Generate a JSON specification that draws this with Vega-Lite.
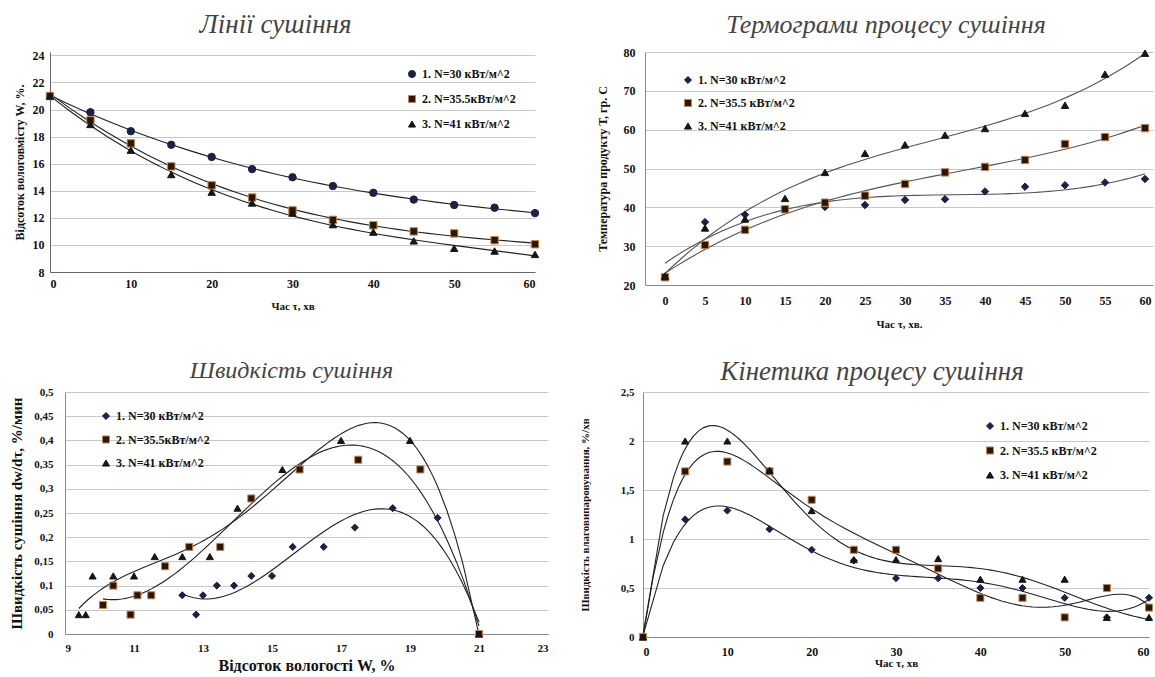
{
"$schema": "https://vega.github.io/schema/vega-lite/v6.json",
"background": "white",
"padding": {"left": 0, "top": 11, "right": 0, "bottom": 0},
"config": {
  "font": "Liberation Serif",
  "view": {"stroke": null},
  "axis": {"labelFont": "Liberation Serif", "labelFontWeight": "bold", "labelColor": "#111", "titleFont": "Liberation Serif", "titleFontWeight": "bold", "titleColor": "#111", "gridColor": "#c8c8c8", "domainColor": "#8a8a8a", "ticks": false, "labelFontSize": 12, "titleFontSize": 12},
  "legend": {"labelFont": "Liberation Serif", "labelFontWeight": "bold", "labelFontSize": 12, "labelColor": "#111", "symbolSize": 50, "symbolStrokeWidth": 1, "orient": "none", "title": null},
  "title": {"font": "Liberation Serif", "fontStyle": "italic", "fontWeight": "normal", "fontSize": 26, "color": "#444", "frame": "group"}
},
"datasets": {
  "p1": [
    {"s":"1. N=30 кВт/м^2","t":0,"w":21},{"s":"1. N=30 кВт/м^2","t":5,"w":19.8},{"s":"1. N=30 кВт/м^2","t":10,"w":18.4},{"s":"1. N=30 кВт/м^2","t":15,"w":17.4},{"s":"1. N=30 кВт/м^2","t":20,"w":16.5},{"s":"1. N=30 кВт/м^2","t":25,"w":15.6},{"s":"1. N=30 кВт/м^2","t":30,"w":15.0},{"s":"1. N=30 кВт/м^2","t":35,"w":14.35},{"s":"1. N=30 кВт/м^2","t":40,"w":13.85},{"s":"1. N=30 кВт/м^2","t":45,"w":13.35},{"s":"1. N=30 кВт/м^2","t":50,"w":12.95},{"s":"1. N=30 кВт/м^2","t":55,"w":12.75},{"s":"1. N=30 кВт/м^2","t":60,"w":12.35},
    {"s":"2. N=35.5кВт/м^2","t":0,"w":21},{"s":"2. N=35.5кВт/м^2","t":5,"w":19.2},{"s":"2. N=35.5кВт/м^2","t":10,"w":17.5},{"s":"2. N=35.5кВт/м^2","t":15,"w":15.8},{"s":"2. N=35.5кВт/м^2","t":20,"w":14.4},{"s":"2. N=35.5кВт/м^2","t":25,"w":13.5},{"s":"2. N=35.5кВт/м^2","t":30,"w":12.55},{"s":"2. N=35.5кВт/м^2","t":35,"w":11.85},{"s":"2. N=35.5кВт/м^2","t":40,"w":11.45},{"s":"2. N=35.5кВт/м^2","t":45,"w":11.0},{"s":"2. N=35.5кВт/м^2","t":50,"w":10.85},{"s":"2. N=35.5кВт/м^2","t":55,"w":10.35},{"s":"2. N=35.5кВт/м^2","t":60,"w":10.05},
    {"s":"3. N=41 кВт/м^2","t":0,"w":21},{"s":"3. N=41 кВт/м^2","t":5,"w":18.9},{"s":"3. N=41 кВт/м^2","t":10,"w":17.0},{"s":"3. N=41 кВт/м^2","t":15,"w":15.2},{"s":"3. N=41 кВт/м^2","t":20,"w":13.9},{"s":"3. N=41 кВт/м^2","t":25,"w":13.1},{"s":"3. N=41 кВт/м^2","t":30,"w":12.35},{"s":"3. N=41 кВт/м^2","t":35,"w":11.5},{"s":"3. N=41 кВт/м^2","t":40,"w":10.95},{"s":"3. N=41 кВт/м^2","t":45,"w":10.3},{"s":"3. N=41 кВт/м^2","t":50,"w":9.75},{"s":"3. N=41 кВт/м^2","t":55,"w":9.55},{"s":"3. N=41 кВт/м^2","t":60,"w":9.3}
  ],
  "p2": [
    {"s":"1. N=30 кВт/м^2","t":0,"w":22},{"s":"1. N=30 кВт/м^2","t":5,"w":36.2},{"s":"1. N=30 кВт/м^2","t":10,"w":38.1},{"s":"1. N=30 кВт/м^2","t":15,"w":39.6},{"s":"1. N=30 кВт/м^2","t":20,"w":40.1},{"s":"1. N=30 кВт/м^2","t":25,"w":40.6},{"s":"1. N=30 кВт/м^2","t":30,"w":41.9},{"s":"1. N=30 кВт/м^2","t":35,"w":42.1},{"s":"1. N=30 кВт/м^2","t":40,"w":44.1},{"s":"1. N=30 кВт/м^2","t":45,"w":45.3},{"s":"1. N=30 кВт/м^2","t":50,"w":45.7},{"s":"1. N=30 кВт/м^2","t":55,"w":46.4},{"s":"1. N=30 кВт/м^2","t":60,"w":47.3},
    {"s":"2. N=35.5 кВт/м^2","t":0,"w":22},{"s":"2. N=35.5 кВт/м^2","t":5,"w":30.3},{"s":"2. N=35.5 кВт/м^2","t":10,"w":34.2},{"s":"2. N=35.5 кВт/м^2","t":15,"w":39.5},{"s":"2. N=35.5 кВт/м^2","t":20,"w":41.2},{"s":"2. N=35.5 кВт/м^2","t":25,"w":43.0},{"s":"2. N=35.5 кВт/м^2","t":30,"w":46.0},{"s":"2. N=35.5 кВт/м^2","t":35,"w":49.0},{"s":"2. N=35.5 кВт/м^2","t":40,"w":50.4},{"s":"2. N=35.5 кВт/м^2","t":45,"w":52.2},{"s":"2. N=35.5 кВт/м^2","t":50,"w":56.3},{"s":"2. N=35.5 кВт/м^2","t":55,"w":58.1},{"s":"2. N=35.5 кВт/м^2","t":60,"w":60.4},
    {"s":"3. N=41 кВт/м^2","t":0,"w":22.3},{"s":"3. N=41 кВт/м^2","t":5,"w":34.7},{"s":"3. N=41 кВт/м^2","t":10,"w":37.0},{"s":"3. N=41 кВт/м^2","t":15,"w":42.3},{"s":"3. N=41 кВт/м^2","t":20,"w":49.0},{"s":"3. N=41 кВт/м^2","t":25,"w":53.9},{"s":"3. N=41 кВт/м^2","t":30,"w":56.1},{"s":"3. N=41 кВт/м^2","t":35,"w":58.6},{"s":"3. N=41 кВт/м^2","t":40,"w":60.3},{"s":"3. N=41 кВт/м^2","t":45,"w":64.2},{"s":"3. N=41 кВт/м^2","t":50,"w":66.3},{"s":"3. N=41 кВт/м^2","t":55,"w":74.3},{"s":"3. N=41 кВт/м^2","t":60,"w":79.7}
  ],
  "p3": [
    {"s":"1. N=30 кВт/м^2","t":12.4,"w":0.08},{"s":"1. N=30 кВт/м^2","t":12.8,"w":0.04},{"s":"1. N=30 кВт/м^2","t":13.0,"w":0.08},{"s":"1. N=30 кВт/м^2","t":13.4,"w":0.10},{"s":"1. N=30 кВт/м^2","t":13.9,"w":0.10},{"s":"1. N=30 кВт/м^2","t":14.4,"w":0.12},{"s":"1. N=30 кВт/м^2","t":15.0,"w":0.12},{"s":"1. N=30 кВт/м^2","t":15.6,"w":0.18},{"s":"1. N=30 кВт/м^2","t":16.5,"w":0.18},{"s":"1. N=30 кВт/м^2","t":17.4,"w":0.22},{"s":"1. N=30 кВт/м^2","t":18.5,"w":0.26},{"s":"1. N=30 кВт/м^2","t":19.8,"w":0.24},{"s":"1. N=30 кВт/м^2","t":21.0,"w":0},
    {"s":"2. N=35.5кВт/м^2","t":10.1,"w":0.06},{"s":"2. N=35.5кВт/м^2","t":10.4,"w":0.10},{"s":"2. N=35.5кВт/м^2","t":10.9,"w":0.04},{"s":"2. N=35.5кВт/м^2","t":11.1,"w":0.08},{"s":"2. N=35.5кВт/м^2","t":11.5,"w":0.08},{"s":"2. N=35.5кВт/м^2","t":11.9,"w":0.14},{"s":"2. N=35.5кВт/м^2","t":12.6,"w":0.18},{"s":"2. N=35.5кВт/м^2","t":13.5,"w":0.18},{"s":"2. N=35.5кВт/м^2","t":14.4,"w":0.28},{"s":"2. N=35.5кВт/м^2","t":15.8,"w":0.34},{"s":"2. N=35.5кВт/м^2","t":17.5,"w":0.36},{"s":"2. N=35.5кВт/м^2","t":19.3,"w":0.34},{"s":"2. N=35.5кВт/м^2","t":21.0,"w":0},
    {"s":"3. N=41 кВт/м^2","t":9.4,"w":0.04},{"s":"3. N=41 кВт/м^2","t":9.6,"w":0.04},{"s":"3. N=41 кВт/м^2","t":9.8,"w":0.12},{"s":"3. N=41 кВт/м^2","t":10.4,"w":0.12},{"s":"3. N=41 кВт/м^2","t":11.0,"w":0.12},{"s":"3. N=41 кВт/м^2","t":11.6,"w":0.16},{"s":"3. N=41 кВт/м^2","t":12.4,"w":0.16},{"s":"3. N=41 кВт/м^2","t":13.2,"w":0.16},{"s":"3. N=41 кВт/м^2","t":14.0,"w":0.26},{"s":"3. N=41 кВт/м^2","t":15.3,"w":0.34},{"s":"3. N=41 кВт/м^2","t":17.0,"w":0.40},{"s":"3. N=41 кВт/м^2","t":19.0,"w":0.40},{"s":"3. N=41 кВт/м^2","t":21.0,"w":0}
  ],
  "p4": [
    {"s":"1. N=30 кВт/м^2","t":0,"w":0},{"s":"1. N=30 кВт/м^2","t":5,"w":1.2},{"s":"1. N=30 кВт/м^2","t":10,"w":1.29},{"s":"1. N=30 кВт/м^2","t":15,"w":1.1},{"s":"1. N=30 кВт/м^2","t":20,"w":0.89},{"s":"1. N=30 кВт/м^2","t":25,"w":0.78},{"s":"1. N=30 кВт/м^2","t":30,"w":0.6},{"s":"1. N=30 кВт/м^2","t":35,"w":0.6},{"s":"1. N=30 кВт/м^2","t":40,"w":0.5},{"s":"1. N=30 кВт/м^2","t":45,"w":0.5},{"s":"1. N=30 кВт/м^2","t":50,"w":0.4},{"s":"1. N=30 кВт/м^2","t":55,"w":0.2},{"s":"1. N=30 кВт/м^2","t":60,"w":0.4},
    {"s":"2. N=35.5 кВт/м^2","t":0,"w":0},{"s":"2. N=35.5 кВт/м^2","t":5,"w":1.69},{"s":"2. N=35.5 кВт/м^2","t":10,"w":1.79},{"s":"2. N=35.5 кВт/м^2","t":15,"w":1.69},{"s":"2. N=35.5 кВт/м^2","t":20,"w":1.4},{"s":"2. N=35.5 кВт/м^2","t":25,"w":0.89},{"s":"2. N=35.5 кВт/м^2","t":30,"w":0.89},{"s":"2. N=35.5 кВт/м^2","t":35,"w":0.7},{"s":"2. N=35.5 кВт/м^2","t":40,"w":0.4},{"s":"2. N=35.5 кВт/м^2","t":45,"w":0.4},{"s":"2. N=35.5 кВт/м^2","t":50,"w":0.2},{"s":"2. N=35.5 кВт/м^2","t":55,"w":0.5},{"s":"2. N=35.5 кВт/м^2","t":60,"w":0.3},
    {"s":"3. N=41 кВт/м^2","t":0,"w":0},{"s":"3. N=41 кВт/м^2","t":5,"w":2.0},{"s":"3. N=41 кВт/м^2","t":10,"w":2.0},{"s":"3. N=41 кВт/м^2","t":15,"w":1.7},{"s":"3. N=41 кВт/м^2","t":20,"w":1.29},{"s":"3. N=41 кВт/м^2","t":25,"w":0.79},{"s":"3. N=41 кВт/м^2","t":30,"w":0.79},{"s":"3. N=41 кВт/м^2","t":35,"w":0.8},{"s":"3. N=41 кВт/м^2","t":40,"w":0.59},{"s":"3. N=41 кВт/м^2","t":45,"w":0.59},{"s":"3. N=41 кВт/м^2","t":50,"w":0.59},{"s":"3. N=41 кВт/м^2","t":55,"w":0.2},{"s":"3. N=41 кВт/м^2","t":60,"w":0.2}
  ]
},
"spacing": 29,
"resolve": {"scale": {"shape": "independent", "fill": "independent", "stroke": "independent", "x": "independent", "y": "independent"}},
"vconcat": [
{
 "spacing": 0,
 "resolve": {"scale": {"shape": "independent", "fill": "independent", "stroke": "independent", "x": "independent", "y": "independent"}},
 "hconcat": [
 {"width": 13, "height": 1, "data": {"values": []}, "mark": "point"},
 {
 "spacing": 55,
 "resolve": {"scale": {"shape": "independent", "fill": "independent", "stroke": "independent", "x": "independent", "y": "independent"}},
 "hconcat": [
 {
  "width": 485, "height": 220,
  "title": {"text": "Лінії сушіння", "dx": -17, "offset": 10, "fontSize": 27},
  "data": {"name": "p1"},
  "encoding": {
    "x": {"field": "t", "type": "quantitative", "scale": {"domain": [0, 60], "nice": false}, "axis": {"grid": false, "values": [0,10,20,30,40,50,60], "title": "Час τ, хв", "titleFontSize": 11, "titlePadding": 11, "labelPadding": 6, "domainColor": "#666"}},
    "y": {"field": "w", "type": "quantitative", "scale": {"domain": [8, 24.25], "nice": false}, "axis": {"values": [8,10,12,14,16,18,20,22,24], "title": "Відсоток вологовмісту W, %.", "titlePadding": 6, "labelPadding": 6, "domainColor": "#666"}}
  },
  "layer": [
    {"transform": [{"regression": "w", "on": "t", "groupby": ["s"], "method": "poly", "order": 3}],
     "mark": {"type": "line", "color": "#222", "strokeWidth": 1.1},
     "encoding": {"detail": {"field": "s"}}},
    {"mark": {"type": "point", "filled": true, "opacity": 1, "size": 55, "strokeWidth": 1},
     "encoding": {
      "shape": {"field": "s", "type": "nominal", "scale": {"domain": ["1. N=30 кВт/м^2","2. N=35.5кВт/м^2","3. N=41 кВт/м^2"], "range": ["circle","square","triangle-up"]}, "legend": {"legendX": 356, "legendY": 16, "rowPadding": 13}},
      "fill": {"field": "s", "type": "nominal", "scale": {"domain": ["1. N=30 кВт/м^2","2. N=35.5кВт/м^2","3. N=41 кВт/м^2"], "range": ["#1b2142","#2a170c","#151515"]}, "legend": {"legendX": 356, "legendY": 16, "rowPadding": 13}},
      "stroke": {"field": "s", "type": "nominal", "scale": {"domain": ["1. N=30 кВт/м^2","2. N=35.5кВт/м^2","3. N=41 кВт/м^2"], "range": ["#1b2142","#c8874f","#151515"]}, "legend": {"legendX": 356, "legendY": 16, "rowPadding": 13}}
     }}
  ]
 },
 {
  "width": 508, "height": 233,
  "title": {"text": "Термограми процесу сушіння", "dx": -13, "offset": 8},
  "data": {"name": "p2"},
  "encoding": {
    "x": {"field": "t", "type": "quantitative", "scale": {"domain": [-2.5, 61], "nice": false}, "axis": {"grid": false, "values": [0,5,10,15,20,25,30,35,40,45,50,55,60], "title": "Час τ, хв.", "titleFontSize": 11, "titlePadding": 12, "labelPadding": 10}},
    "y": {"field": "w", "type": "quantitative", "scale": {"domain": [20, 80], "nice": false}, "axis": {"values": [20,30,40,50,60,70,80], "title": "Температура продукту  Т, гр. С", "titlePadding": 14, "labelPadding": 10}}
  },
  "layer": [
    {"transform": [{"regression": "w", "on": "t", "groupby": ["s"], "method": "poly", "order": 3}],
     "mark": {"type": "line", "color": "#555", "strokeWidth": 1.1},
     "encoding": {"detail": {"field": "s"}}},
    {"mark": {"type": "point", "filled": true, "opacity": 1, "size": 55, "strokeWidth": 1},
     "encoding": {
      "shape": {"field": "s", "type": "nominal", "scale": {"domain": ["1. N=30 кВт/м^2","2. N=35.5 кВт/м^2","3. N=41 кВт/м^2"], "range": ["diamond","square","triangle-up"]}, "legend": {"legendX": 37, "legendY": 22, "rowPadding": 11}},
      "fill": {"field": "s", "type": "nominal", "scale": {"domain": ["1. N=30 кВт/м^2","2. N=35.5 кВт/м^2","3. N=41 кВт/м^2"], "range": ["#1b2142","#2a170c","#151515"]}, "legend": {"legendX": 37, "legendY": 22, "rowPadding": 11}},
      "stroke": {"field": "s", "type": "nominal", "scale": {"domain": ["1. N=30 кВт/м^2","2. N=35.5 кВт/м^2","3. N=41 кВт/м^2"], "range": ["#1b2142","#c8874f","#151515"]}, "legend": {"legendX": 37, "legendY": 22, "rowPadding": 11}}
     }}
  ]
 }
 ]
 }
 ]
},
{
 "spacing": 0,
 "resolve": {"scale": {"shape": "independent", "fill": "independent", "stroke": "independent", "x": "independent", "y": "independent"}},
 "hconcat": [
 {"width": 9, "height": 1, "data": {"values": []}, "mark": "point"},
 {
 "spacing": 31,
 "resolve": {"scale": {"shape": "independent", "fill": "independent", "stroke": "independent", "x": "independent", "y": "independent"}},
 "hconcat": [
 {
  "width": 483, "height": 242,
  "title": {"text": "Швидкість сушіння", "dx": -15, "offset": 3, "fontSize": 24},
  "data": {"name": "p3"},
  "encoding": {
    "x": {"field": "t", "type": "quantitative", "scale": {"domain": [9, 23], "nice": false}, "axis": {"grid": false, "values": [9,11,13,15,17,19,21,23], "title": "Відсоток вологості W, %", "titleFontSize": 16, "titlePadding": 4, "labelPadding": 8, "labelFontSize": 11}},
    "y": {"field": "w", "type": "quantitative", "scale": {"domain": [0, 0.5], "nice": false}, "axis": {"values": [0,0.05,0.1,0.15,0.2,0.25,0.3,0.35,0.4,0.45,0.5], "labelExpr": "replace(format(datum.value, '~g'), '.', ',')", "title": "Швидкість сушіння dw/dτ, %/мин", "titleFontSize": 15, "titlePadding": 9, "labelPadding": 12, "labelFontSize": 11}}
  },
  "layer": [
    {"transform": [{"filter": "datum.s != '3. N=41 кВт/м^2'"}, {"regression": "w", "on": "t", "groupby": ["s"], "method": "poly", "order": 3}],
     "mark": {"type": "line", "color": "#222", "strokeWidth": 1.1},
     "encoding": {"detail": {"field": "s"}}},
    {"transform": [{"filter": "datum.s == '3. N=41 кВт/м^2'"}, {"regression": "w", "on": "t", "groupby": ["s"], "method": "poly", "order": 4}],
     "mark": {"type": "line", "color": "#222", "strokeWidth": 1.1},
     "encoding": {"detail": {"field": "s"}}},
    {"mark": {"type": "point", "filled": true, "opacity": 1, "size": 50, "strokeWidth": 1},
     "encoding": {
      "shape": {"field": "s", "type": "nominal", "scale": {"domain": ["1. N=30 кВт/м^2","2. N=35.5кВт/м^2","3. N=41 кВт/м^2"], "range": ["diamond","square","triangle-up"]}, "legend": {"legendX": 35, "legendY": 18, "rowPadding": 11.5}},
      "fill": {"field": "s", "type": "nominal", "scale": {"domain": ["1. N=30 кВт/м^2","2. N=35.5кВт/м^2","3. N=41 кВт/м^2"], "range": ["#1b2142","#2a170c","#151515"]}, "legend": {"legendX": 35, "legendY": 18, "rowPadding": 11.5}},
      "stroke": {"field": "s", "type": "nominal", "scale": {"domain": ["1. N=30 кВт/м^2","2. N=35.5кВт/м^2","3. N=41 кВт/м^2"], "range": ["#1b2142","#c8874f","#151515"]}, "legend": {"legendX": 35, "legendY": 18, "rowPadding": 11.5}}
     }}
  ]
 },
 {
  "width": 506, "height": 245,
  "title": {"text": "Кінетика процесу сушіння", "dx": -24, "offset": 0, "fontSize": 27},
  "data": {"name": "p4"},
  "encoding": {
    "x": {"field": "t", "type": "quantitative", "scale": {"domain": [0, 60], "nice": false}, "axis": {"grid": false, "values": [0,10,20,30,40,50,60], "title": "Час τ, хв", "titleFontSize": 11, "titlePadding": 0, "labelPadding": 9}},
    "y": {"field": "w", "type": "quantitative", "scale": {"domain": [0, 2.5], "nice": false}, "axis": {"values": [0,0.5,1,1.5,2,2.5], "labelExpr": "replace(format(datum.value, '~g'), '.', ',')", "title": "Швидкість влаговипаровування, %/хв", "titleFontSize": 11, "titlePadding": 30, "labelPadding": 9, "labelFontSize": 11}}
  },
  "layer": [
    {"transform": [{"regression": "w", "on": "t", "groupby": ["s"], "method": "poly", "order": 6}],
     "mark": {"type": "line", "color": "#222", "strokeWidth": 1.1},
     "encoding": {"detail": {"field": "s"}}},
    {"mark": {"type": "point", "filled": true, "opacity": 1, "size": 50, "strokeWidth": 1},
     "encoding": {
      "shape": {"field": "s", "type": "nominal", "scale": {"domain": ["1. N=30 кВт/м^2","2. N=35.5 кВт/м^2","3. N=41 кВт/м^2"], "range": ["diamond","square","triangle-up"]}, "legend": {"legendX": 341, "legendY": 28, "rowPadding": 12.5}},
      "fill": {"field": "s", "type": "nominal", "scale": {"domain": ["1. N=30 кВт/м^2","2. N=35.5 кВт/м^2","3. N=41 кВт/м^2"], "range": ["#1b2142","#2a170c","#151515"]}, "legend": {"legendX": 341, "legendY": 28, "rowPadding": 12.5}},
      "stroke": {"field": "s", "type": "nominal", "scale": {"domain": ["1. N=30 кВт/м^2","2. N=35.5 кВт/м^2","3. N=41 кВт/м^2"], "range": ["#1b2142","#c8874f","#151515"]}, "legend": {"legendX": 341, "legendY": 28, "rowPadding": 12.5}}
     }}
  ]
 }
 ]
 }
 ]
}
]
}
